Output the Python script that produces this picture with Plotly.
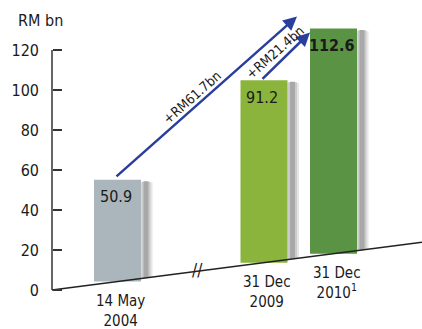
import plotly.graph_objects as go

# ---- data ----
categories = ["14 May<br>2004", "31 Dec<br>2009", "31 Dec<br>2010<sup>1</sup>"]
values = [50.9, 91.2, 112.6]
value_labels = ["50.9", "91.2", "<b>112.6</b>"]
change_labels = ["+RM61.7bn", "+RM21.4bn"]
y_ticks = [0, 20, 40, 60, 80, 100, 120]
unit_label = "RM bn"

# ---- layout constants ----
FONT = "DejaVu Sans Condensed, Liberation Sans Narrow, Roboto, sans-serif"
TXT = "#1a1a1a"
centers = [65.5, 212.0, 281.5]      # x positions of the bars (plot units = px)
BAR_W = 47
SLOPE = 0.0645                      # skew of the pseudo-3D floor (y units per x unit)
bar_colors = ["#aab6bc", "#8ab43c", "#5a9344"]
BLUE = "#2a3f9c"
X_MIN, X_MAX = -12, 370


def floor(x):
    return SLOPE * x


bases = [floor(c) for c in centers]
tops = [b + v for b, v in zip(bases, values)]

fig = go.Figure()

# soft shadows to the right of each bar (wide & light behind, narrow & dark in front)
for off, w, col, drop in [(29.0, 12, "#e6e6e6", 3.2), (28.5, 9, "#cbcbcb", 2.8),
                          (28.5, 5, "#a8a8a8", 2.6)]:
    xs = [c + off for c in centers]
    fig.add_trace(go.Bar(
        x=xs, y=[v - drop for v in values], base=[floor(x) for x in xs],
        width=w, marker=dict(color=col, line=dict(width=0)),
        hoverinfo="skip", showlegend=False))

# main bars
fig.add_trace(go.Bar(
    x=centers, y=values, base=bases, width=BAR_W,
    marker=dict(color=bar_colors, line=dict(width=0)),
    showlegend=False))

# skewed floor line
fig.add_trace(go.Scatter(
    x=[0, X_MAX], y=[floor(0), floor(X_MAX)], mode="lines",
    line=dict(color="#222222", width=1.5), hoverinfo="skip",
    showlegend=False))

ann = []
# value labels inside the bars
for c, t, lab in zip(centers, tops, value_labels):
    ann.append(dict(x=c - 2, y=t - 8.5, text=lab, showarrow=False,
                    font=dict(size=16, color=TXT, family=FONT)))
# category labels under the floor
for c, b, lab in zip(centers, bases, categories):
    ann.append(dict(x=c + 3, y=b - 4.0, text=lab, showarrow=False, yanchor="top",
                    font=dict(size=15, color=TXT, family=FONT)))

# arrows of growth
a1_x0, a1_x1 = 63, 245
a2_x0, a2_x1 = 209, 258
ann.append(dict(x=a1_x1, y=tops[2] + 6, ax=a1_x0, ay=tops[0] + 1,
                xref="x", yref="y", axref="x", ayref="y", text="",
                showarrow=True, arrowhead=2, arrowsize=1.1, arrowwidth=2.5,
                arrowcolor=BLUE, standoff=0, startstandoff=0))
ann.append(dict(x=a2_x1, y=tops[2] - 2, ax=a2_x0, ay=tops[1],
                xref="x", yref="y", axref="x", ayref="y", text="",
                showarrow=True, arrowhead=2, arrowsize=1.1, arrowwidth=2.5,
                arrowcolor=BLUE, standoff=0, startstandoff=0))
ann.append(dict(x=140, y=96.5, text=change_labels[0], textangle=-41.5, showarrow=False,
                font=dict(size=13.5, color=TXT, family=FONT)))
ann.append(dict(x=223, y=119, text=change_labels[1], textangle=-41.5, showarrow=False,
                font=dict(size=13.5, color=TXT, family=FONT)))
# axis break mark
ann.append(dict(x=145, y=floor(145) + 0.5, text="//", showarrow=False,
                font=dict(size=17, color="#222222", family=FONT)))
# unit label
ann.append(dict(xref="paper", yref="y", x=(16 - 40) / (X_MAX - X_MIN), xanchor="left",
                y=135, text=unit_label, showarrow=False,
                font=dict(size=16, color=TXT, family=FONT)))

fig.update_layout(
    width=422, height=329,
    margin=dict(l=40, r=0, t=0, b=0),
    paper_bgcolor="white", plot_bgcolor="white",
    barmode="overlay",
    xaxis=dict(range=[X_MIN, X_MAX], visible=False, fixedrange=True),
    yaxis=dict(range=[-19.5, 145], tickvals=y_ticks, ticks="inside", ticklen=9,
               tickwidth=1.5, tickcolor="#333333", showline=False,
               anchor="free", position=(0 - X_MIN) / (X_MAX - X_MIN),
               showgrid=False, zeroline=False, ticklabelstandoff=13,
               tickfont=dict(size=16, color=TXT, family=FONT), fixedrange=True),
    shapes=[dict(type="line", xref="x", yref="y", x0=0, x1=0, y0=0, y1=120,
                 line=dict(color="#333333", width=1.5))],
    annotations=ann,
    showlegend=False,
)

fig.write_html("out.html")
